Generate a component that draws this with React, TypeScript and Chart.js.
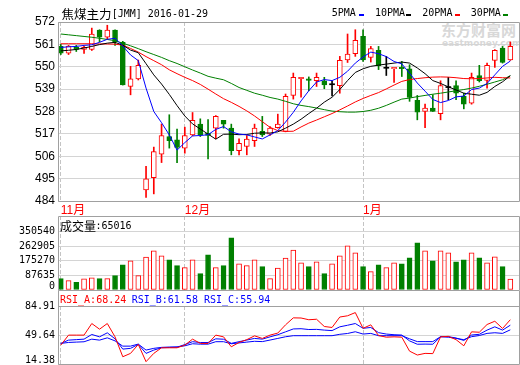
import React, { useEffect, useRef } from 'react';
import { Chart, registerables } from 'chart.js';

Chart.register(...registerables);

// ---------- data ----------
const DATES = [
  '2015-11-09','2015-11-10','2015-11-11','2015-11-12','2015-11-13','2015-11-16','2015-11-17','2015-11-18','2015-11-19','2015-11-20',
  '2015-11-23','2015-11-24','2015-11-25','2015-11-26','2015-11-27','2015-11-30',
  '2015-12-01','2015-12-02','2015-12-03','2015-12-04','2015-12-07','2015-12-08','2015-12-09','2015-12-10','2015-12-11','2015-12-14',
  '2015-12-15','2015-12-16','2015-12-17','2015-12-18','2015-12-21','2015-12-22','2015-12-23','2015-12-24','2015-12-25','2015-12-28',
  '2015-12-29','2015-12-30','2015-12-31',
  '2016-01-04','2016-01-05','2016-01-06','2016-01-07','2016-01-08','2016-01-11','2016-01-12','2016-01-13','2016-01-14','2016-01-15',
  '2016-01-18','2016-01-19','2016-01-20','2016-01-21','2016-01-22','2016-01-25','2016-01-26','2016-01-27','2016-01-28','2016-01-29',
];

const OPEN = [
  560.0, 556.7, 559.5, 558.5, 558.5, 568.0, 564.5, 568.0, 562.0, 540.3,
  544.0, 489.4, 495.5, 507.0, 515.7, 514.1, 510.0, 516.5, 521.8, 517.3,
  519.8, 523.6, 519.8, 508.8, 510.8, 513.7, 518.2, 516.8, 520.1, 518.2,
  535.9, 544.1, 544.1, 543.1, 543.1, 541.4, 540.7, 553.4, 556.4, 564.9,
  554.6, 558.1, 549.5, 549.0, 549.7, 549.0, 533.5, 528.1, 529.7, 526.9,
  540.0, 540.8, 535.4, 532.1, 545.7, 543.3, 553.1, 559.2, 553.4,
];
const HIGH = [
  561.0, 560.5, 560.5, 560.0, 569.0, 568.2, 570.4, 568.2, 562.5, 550.2,
  553.3, 501.0, 510.5, 521.8, 526.4, 519.3, 520.3, 527.5, 524.4, 524.0,
  526.0, 523.6, 521.8, 514.6, 516.2, 521.8, 525.6, 520.6, 526.7, 536.6,
  546.9, 544.8, 545.0, 546.9, 544.8, 543.1, 555.1, 566.1, 568.2, 568.2,
  560.0, 560.0, 555.1, 549.7, 552.6, 551.0, 535.9, 531.6, 536.2, 543.1,
  544.8, 543.1, 537.0, 546.9, 550.7, 551.8, 558.4, 560.0, 562.2,
];
const LOW = [
  556.0, 556.0, 557.5, 556.5, 558.0, 562.2, 563.5, 560.5, 541.0, 536.2,
  543.5, 485.7, 487.5, 502.9, 510.0, 502.9, 507.5, 516.0, 515.7, 504.7,
  514.6, 519.8, 506.7, 506.7, 506.7, 510.8, 515.7, 516.2, 519.8, 518.0,
  534.1, 535.1, 538.2, 540.3, 539.2, 535.7, 537.0, 552.1, 555.1, 552.6,
  552.3, 548.6, 545.7, 542.3, 545.2, 533.0, 523.9, 520.1, 528.0, 523.9,
  533.8, 533.8, 529.3, 531.6, 542.5, 539.5, 549.7, 551.8, 553.1,
];
const CLOSE = [
  556.7, 560.2, 558.5, 559.5, 566.0, 564.5, 568.0, 562.2, 541.1, 544.0,
  550.7, 494.9, 508.3, 516.2, 513.7, 510.3, 516.2, 523.6, 516.5, 516.2,
  525.6, 521.8, 508.8, 512.4, 514.4, 519.8, 516.5, 519.8, 521.8, 535.4,
  544.8, 544.8, 543.3, 544.8, 541.1, 541.4, 553.1, 556.2, 563.0, 553.4,
  558.9, 550.5, 549.5, 549.7, 549.0, 534.9, 527.7, 529.7, 528.1, 540.8,
  540.0, 537.0, 531.6, 544.8, 543.1, 550.7, 558.1, 552.1, 560.0,
];

const MA5 = [
  559.5, 559.8, 560.0, 560.5, 560.8, 562.0, 563.5, 564.0, 560.2, 555.8,
  553.0, 539.5, 528.0, 522.5, 516.5, 509.0, 512.7, 516.0, 516.2, 516.6,
  519.2, 520.6, 518.0, 516.9, 516.5, 515.5, 514.5, 516.5, 518.6, 522.8,
  527.6, 533.2, 538.2, 542.5, 543.7, 543.2, 544.8, 547.8, 551.8, 554.8,
  557.2, 556.4, 555.0, 552.6, 551.4, 546.8, 542.0, 538.0, 533.9, 532.4,
  533.4, 535.2, 535.6, 538.8, 539.5, 541.8, 546.0, 550.2, 552.8,
];
const MA10 = [
  557.8, 558.1, 558.5, 559.2, 560.0, 560.9, 561.6, 562.0, 560.6, 558.2,
  556.9, 551.5, 546.0, 541.5, 536.4, 530.9, 525.8, 521.9, 519.4, 516.9,
  514.4, 516.8, 516.9, 516.6, 516.7, 517.3, 517.5, 517.4, 518.0, 519.8,
  521.8, 524.2, 527.0, 529.6, 532.6, 535.0, 538.8, 543.2, 547.2, 549.0,
  550.2, 550.8, 551.3, 551.8, 552.3, 551.8, 549.4, 546.6, 543.2, 541.8,
  540.1, 538.6, 537.0, 536.5, 536.0, 537.4, 540.3, 542.6, 545.6,
];
const MA20 = [
  561.3, 561.3, 561.3, 561.3, 561.3, 561.2, 561.2, 561.1, 560.6, 559.0,
  557.2, 555.0, 553.0, 551.0, 548.5, 546.6, 544.8, 543.2, 541.3, 539.0,
  536.6, 534.3, 532.5, 530.5, 528.3, 525.8, 523.0, 520.2, 518.6, 518.2,
  518.3, 520.4, 522.3, 523.8, 525.4, 527.0, 528.8, 530.7, 532.7, 534.4,
  535.9, 537.3, 539.1, 541.0, 542.8, 543.7, 544.2, 544.6, 544.9, 545.0,
  544.9, 544.6, 544.2, 544.1, 544.2, 544.5, 544.8, 544.6, 544.5,
];
const MA30 = [
  566.1, 565.7, 565.3, 564.9, 564.5, 564.0, 563.4, 562.8, 561.6, 560.3,
  558.9, 557.4, 556.0, 554.6, 553.0, 551.6, 550.0, 548.4, 546.9, 545.3,
  544.4, 543.6, 541.8, 539.8, 538.4, 537.0, 536.0, 534.9, 534.1, 533.0,
  531.8, 531.0, 530.4, 529.7, 528.9, 528.2, 527.9, 527.7, 527.7, 528.0,
  528.6, 529.6, 531.0, 532.6, 534.1, 534.6, 535.3, 535.9, 536.5, 537.0,
  537.6, 538.2, 538.8, 539.5, 540.4, 541.4, 542.5, 543.6, 545.6,
];

const VOLUME = [
  68300, 56400, 46300, 66500, 72500, 68300, 68300, 86100, 151500, 175300,
  86100, 197200, 234700, 205000, 181200, 145600, 133700, 181200, 98000, 210900,
  133700, 145600, 311900, 157400, 145600, 181200, 139600, 68300, 131900, 191300,
  238800, 163400, 139600, 169300, 98000, 157400, 205000, 264400, 222800, 139600,
  109900, 151500, 133700, 163400, 157400, 193100, 282200, 234700, 175300, 234700,
  222800, 169300, 181200, 222800, 193100, 163400, 199000, 139600, 65016,
];

const RSI_A = [
  37.3, 49.5, 49.5, 49.5, 63.6, 56.7, 63.6, 47.4, 23.2, 27.3,
  38.2, 17.2, 27.3, 34.1, 34.1, 34.1, 37.3, 44.6, 39.4, 39.4,
  49.5, 47.4, 35.3, 40.6, 44.0, 48.6, 45.5, 49.5, 52.0, 62.0,
  70.5, 70.3, 68.2, 68.8, 60.0, 58.8, 71.5, 73.0, 76.9, 57.8,
  62.0, 49.0, 47.0, 47.4, 47.0, 30.0, 25.3, 27.3, 27.0, 47.4,
  48.0, 44.0, 36.5, 53.5, 53.0, 62.4, 66.4, 57.6, 68.24,
];
const RSI_B = [
  39.4, 43.4, 44.0, 44.6, 50.3, 47.4, 52.3, 45.0, 32.5, 33.4,
  38.2, 27.3, 31.3, 34.1, 34.5, 34.8, 38.0, 41.5, 40.5, 40.5,
  45.0, 44.5, 39.5, 41.5, 43.5, 45.5, 44.6, 47.4, 50.0, 53.5,
  57.0, 57.3, 56.3, 56.5, 55.6, 55.0, 59.6, 61.5, 63.6, 57.8,
  58.8, 52.5, 50.8, 50.0, 49.6, 42.5, 38.4, 38.6, 38.4, 47.6,
  47.6, 46.0, 43.0, 49.6, 50.5, 55.6, 59.6, 55.6, 61.58,
];
const RSI_C = [
  39.4, 40.6, 41.0, 41.4, 44.6, 43.4, 46.2, 42.5, 36.1, 36.1,
  38.6, 31.3, 33.4, 34.6, 35.0, 35.2, 36.5, 39.0, 38.5, 38.5,
  41.5, 41.5, 39.0, 40.0, 41.0, 42.0, 41.6, 43.5, 45.5, 47.5,
  48.8, 48.8, 48.8, 48.8, 48.8, 48.8, 50.5, 51.5, 53.6, 50.8,
  51.6, 48.8, 48.8, 48.8, 48.8, 45.0, 41.6, 41.6, 41.6, 47.6,
  47.0, 45.5, 44.0, 47.6, 49.0, 51.6, 52.4, 51.6, 55.94,
];

const PRICE_MIN = 484;
const PRICE_MAX = 572;
const PRICE_STEP = 11;
const VOLUME_TICKS = [0, 87635, 175270, 262905, 350540];
const RSI_TICKS = [14.38, 49.64, 84.91];

// ---------- styling ----------
const X_MIN = -0.36;
const X_MAX = 59.12;
const UP = '#ff0000';
const DOWN = '#008000';
const FLAT = '#000000';
const GRID = '#d4d4d4';
const DASH_GRID = '#c4c4c4';
const FRAME = '#a0a0a0';
const MONO = '"DejaVu Sans Mono", monospace';
const CJK = '"Noto Sans CJK SC", sans-serif';

const candleColor = (i: number) =>
  CLOSE[i] > OPEN[i] ? UP : CLOSE[i] < OPEN[i] ? DOWN : FLAT;

const MONTH_TICKS = DATES.map((d, i) => ({ d, i }))
  .filter(({ d, i }) => i === 0 || d.slice(5, 7) !== DATES[i - 1].slice(5, 7))
  .map(({ d, i }) => ({ value: i, label: Number(d.slice(5, 7)) + '月' }));

function framePlugin(extend: boolean) {
  return {
    id: 'frame',
    afterDraw(chart: any) {
      const { ctx, chartArea: a } = chart;
      const l = Math.round(a.left) + 0.5;
      const r = Math.round(a.right) + 0.5;
      const t = Math.round(a.top) + 0.5;
      const b = Math.round(a.bottom) + 0.5;
      ctx.save();
      ctx.strokeStyle = FRAME;
      ctx.lineWidth = 1;
      ctx.setLineDash([]);
      ctx.beginPath();
      ctx.moveTo(l, extend ? 0 : t); ctx.lineTo(l, b);
      ctx.moveTo(r, extend ? 0 : t); ctx.lineTo(r, b);
      ctx.moveTo(l, t); ctx.lineTo(r, t);
      ctx.moveTo(l, b); ctx.lineTo(r, b);
      ctx.stroke();
      ctx.restore();
    },
  };
}

function sideLabels(values: number[], fmt: (v: number) => string) {
  return {
    id: 'sideLabels',
    afterDraw(chart: any) {
      const { ctx, chartArea: a } = chart;
      const ys = chart.scales.y;
      ctx.save();
      ctx.font = '10px ' + MONO;
      ctx.fillStyle = '#000';
      ctx.textAlign = 'right';
      ctx.textBaseline = 'middle';
      values.forEach((v) => {
        const p = Math.min(ys.getPixelForValue(v), a.bottom - 4);
        ctx.fillText(fmt(v), 55, p);
      });
      ctx.restore();
    },
  };
}

function xScale(showLabels: boolean) {
  return {
    type: 'linear',
    min: X_MIN,
    max: X_MAX,
    offset: false,
    afterBuildTicks: (s: any) => {
      s.ticks = MONTH_TICKS.map((t) => ({ value: t.value }));
    },
    afterFit: (s: any) => {
      s.height = showLabels ? 15 : 0;
    },
    grid: { color: DASH_GRID, drawTicks: false, offset: false, lineWidth: 1 },
    border: { display: false, dash: [4, 2] },
    ticks: {
      display: showLabels,
      autoSkip: false,
      maxRotation: 0,
      minRotation: 0,
      align: 'start',
      padding: 2,
      color: UP,
      font: { family: '"Liberation Sans", "Noto Sans CJK SC", sans-serif', size: 12 },
      callback: (v: number) => {
        const t = MONTH_TICKS.find((m) => m.value === v);
        return t ? t.label : '';
      },
    },
  };
}

const Txt = ({ x, y, size, family, color = '#000', weight = 'normal', children }: any) => (
  <div
    style={{
      position: 'absolute', left: x, top: y - 8, height: 16, lineHeight: '16px',
      fontSize: size, fontFamily: family, color, fontWeight: weight, whiteSpace: 'nowrap',
    }}
  >
    {children}
  </div>
);

const Dash = ({ x, color }: any) => (
  <div style={{ position: 'absolute', left: x, top: 14, width: 5, height: 2, background: color }} />
);

export default function App() {
  const mainRef = useRef<HTMLCanvasElement>(null);
  const volRef = useRef<HTMLCanvasElement>(null);
  const rsiRef = useRef<HTMLCanvasElement>(null);

  useEffect(() => {
    const colors = OPEN.map((_, i) => candleColor(i));
    const bodies = OPEN.map((o, i) => {
      const c = CLOSE[i];
      return { x: i, y: o === c ? [c - 0.25, c + 0.25] : [Math.min(o, c), Math.max(o, c)] };
    });
    const wicks = HIGH.map((h, i) => ({ x: i, y: [LOW[i], h] }));
    const line = (arr: number[], color: string, order: number) => ({
      type: 'line',
      data: arr.map((v, i) => ({ x: i, y: v })),
      borderColor: color,
      backgroundColor: color,
      borderWidth: 1,
      pointRadius: 0,
      tension: 0,
      fill: false,
      order,
    });
    const common = {
      animation: false,
      responsive: false,
      maintainAspectRatio: false,
      events: [],
      plugins: { legend: { display: false }, tooltip: { enabled: false }, title: { display: false } },
    };

    const main = new Chart(mainRef.current as any, {
      type: 'bar',
      data: {
        datasets: [
          line(MA5, '#0000ff', 0),
          line(MA10, '#000000', 0),
          line(MA20, '#ff0000', 0),
          line(MA30, '#008000', 0),
          {
            type: 'bar',
            data: bodies,
            backgroundColor: colors.map((c) => (c === UP ? '#ffffff' : c)),
            borderColor: colors,
            borderWidth: colors.map((c) => (c === FLAT ? 0 : 1)),
            borderSkipped: false,
            barThickness: 5,
            grouped: false,
            order: 1,
          },
          {
            type: 'bar',
            data: wicks,
            backgroundColor: colors,
            borderWidth: 0,
            barThickness: 1,
            grouped: false,
            order: 2,
          },
        ] as any,
      },
      options: {
        ...common,
        layout: { padding: { left: 0, right: 1, top: 22, bottom: 0 } },
        scales: {
          x: xScale(true),
          y: {
            min: PRICE_MIN,
            max: PRICE_MAX,
            afterFit: (s: any) => { s.width = 58; },
            grid: { color: GRID, drawTicks: false },
            border: { display: false },
            ticks: {
              stepSize: PRICE_STEP,
              padding: 3,
              color: '#000',
              font: { family: '"Liberation Sans", sans-serif', size: 12 },
            },
          },
        } as any,
      },
      plugins: [framePlugin(false)],
    } as any);

    const vol = new Chart(volRef.current as any, {
      type: 'bar',
      data: {
        datasets: [
          {
            data: VOLUME.map((v, i) => ({ x: i, y: v })),
            backgroundColor: colors.map((c) => (c === DOWN ? DOWN : '#ffffff')),
            borderColor: colors.map((c) => (c === DOWN ? DOWN : UP)),
            borderWidth: 1,
            borderSkipped: false,
            barThickness: 5,
            grouped: false,
          },
        ],
      },
      options: {
        ...common,
        layout: { padding: { left: 0, right: 1, top: 0, bottom: 1 } },
        scales: {
          x: xScale(false),
          y: {
            min: 0,
            max: 443418,
            afterFit: (s: any) => { s.width = 58; },
            afterBuildTicks: (s: any) => { s.ticks = VOLUME_TICKS.map((v) => ({ value: v })); },
            grid: { color: GRID, drawTicks: false },
            border: { display: false },
            ticks: { display: false },
          },
        } as any,
      },
      plugins: [framePlugin(false), sideLabels(VOLUME_TICKS, (v) => String(v))],
    } as any);

    const rsi = new Chart(rsiRef.current as any, {
      type: 'line',
      data: {
        datasets: [
          line(RSI_A, '#ff0000', 0),
          line(RSI_B, '#0000ff', 1),
          line(RSI_C, '#0000ff', 2),
        ] as any,
      },
      options: {
        ...common,
        layout: { padding: { left: 0, right: 1, top: 15, bottom: 1 } },
        scales: {
          x: xScale(false),
          y: {
            min: RSI_TICKS[0],
            max: RSI_TICKS[2],
            afterFit: (s: any) => { s.width = 58; },
            afterBuildTicks: (s: any) => { s.ticks = RSI_TICKS.map((v) => ({ value: v })); },
            grid: { color: GRID, drawTicks: false },
            border: { display: false },
            ticks: { display: false },
          },
        } as any,
      },
      plugins: [framePlugin(true), sideLabels(RSI_TICKS, (v) => v.toFixed(2))],
    } as any);

    return () => {
      main.destroy();
      vol.destroy();
      rsi.destroy();
    };
  }, []);

  const last = (a: number[]) => a[a.length - 1];

  return (
    <div style={{ position: 'absolute', left: 0, top: 0, width: 520, height: 365, background: '#fff', overflow: 'hidden' }}>
      {/* watermark */}
      <Txt x={441} y={30} size={15} family={CJK} color="#d8d8d8" weight="bold">东方财富网</Txt>
      <Txt x={442} y={43} size={9} family='"DejaVu Sans", sans-serif' color="#d8d8d8" weight="bold">eastmoney.com</Txt>

      <canvas ref={mainRef} width={520} height={216} style={{ position: 'absolute', left: 0, top: 0, width: 520, height: 216 }} />
      <canvas ref={volRef} width={520} height={75} style={{ position: 'absolute', left: 0, top: 216, width: 520, height: 75 }} />
      <canvas ref={rsiRef} width={520} height={74} style={{ position: 'absolute', left: 0, top: 291, width: 520, height: 74 }} />

      {/* title */}
      <Txt x={61.5} y={13.5} size={12.5} family={CJK}>焦煤主力</Txt>
      <Txt x={111.7} y={13.5} size={10} family={MONO}>[JMM] {last(DATES)}</Txt>

      {/* legend */}
      <Txt x={331.7} y={13} size={10} family={MONO}>5PMA</Txt>
      <Dash x={359} color="#0000ff" />
      <Txt x={375} y={13} size={10} family={MONO}>10PMA</Txt>
      <Dash x={405.7} color="#000000" />
      <Txt x={422.3} y={13} size={10} family={MONO}>20PMA</Txt>
      <Dash x={455} color="#ff0000" />
      <Txt x={470.7} y={13} size={10} family={MONO}>30PMA</Txt>
      <Dash x={503.3} color="#008000" />

      {/* volume title */}
      <Txt x={60} y={226} size={12} family={CJK}>成交量</Txt>
      <Txt x={95.5} y={226} size={10} family={MONO}>:{last(VOLUME)}</Txt>

      {/* RSI titles */}
      <Txt x={60} y={300} size={10} family={MONO} color="#ff0000">RSI_A:{last(RSI_A).toFixed(2)}</Txt>
      <Txt x={131.7} y={300} size={10} family={MONO} color="#0000ff">RSI_B:{last(RSI_B).toFixed(2)}</Txt>
      <Txt x={204} y={300} size={10} family={MONO} color="#0000ff">RSI_C:{last(RSI_C).toFixed(2)}</Txt>
    </div>
  );
}
